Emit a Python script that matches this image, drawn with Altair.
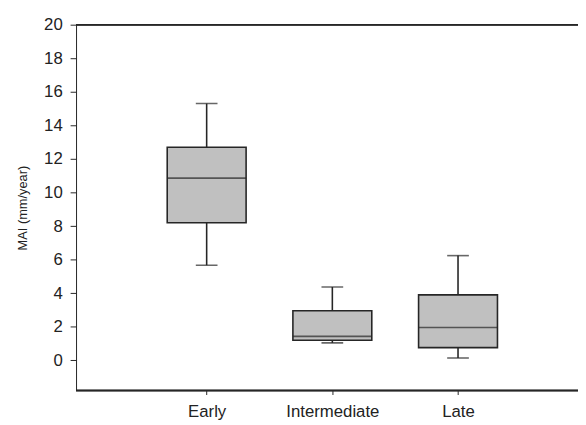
import altair as alt
import pandas as pd

categories = ["Early", "Intermediate", "Late"]
lower = [5.67, 1.04, 0.14]
q1 = [8.2, 1.2, 0.76]
median = [10.86, 1.43, 1.96]
q3 = [12.7, 2.96, 3.9]
upper = [15.3, 4.37, 6.24]
y_ticks = [0, 2, 4, 6, 8, 10, 12, 14, 16, 18, 20]

df = pd.DataFrame({"cat": categories, "pos": list(range(1, len(categories) + 1)),
                   "lo": lower, "q1": q1, "med": median, "q3": q3, "hi": upper})

W, H = 509, 371
FONT = "Liberation Sans"
LC = "#262626"

label_expr = "datum.value == 1 ? 'Early' : datum.value == 2 ? 'Intermediate' : datum.value == 3 ? 'Late' : ''"
x = alt.X("pos:Q",
          scale=alt.Scale(domain=[0, W / 130], nice=False, zero=False),
          axis=alt.Axis(title=None, values=[1, 2, 3], labelExpr=label_expr,
                        labelFont=FONT, labelFontSize=17, grid=False,
                        labelColor="#222222", domain=False, tickColor=LC,
                        tickSize=4, labelPadding=9, labelFlush=False))
yscale = alt.Scale(domain=[-1.8, 20], nice=False, zero=False)
y_axis = alt.Axis(title="MAI (mm/year)", values=y_ticks, grid=False,
                  labelOverlap=False, labelFlush=False,
                  labelFont=FONT, labelFontSize=17, labelColor="#222222",
                  titleFont=FONT, titleFontSize=13, titleFontWeight="normal",
                  titleColor="#222222", domainColor=LC, tickColor=LC,
                  tickSize=6, labelPadding=8, titlePadding=14)


def yenc(field):
    return alt.Y(field, scale=yscale, axis=y_axis, title="MAI (mm/year)")


base = alt.Chart(df)

whisk_lo = base.mark_rule(color=LC, strokeWidth=1.6).encode(
    x=x, y=yenc("lo:Q"), y2="q1:Q")
whisk_hi = base.mark_rule(color=LC, strokeWidth=1.6).encode(
    x=x, y=yenc("q3:Q"), y2="hi:Q")
box = base.mark_bar(size=80, fill="#c0c0c0", stroke=LC, strokeWidth=1.6,
                    orient="vertical").encode(
    x=x, y=yenc("q1:Q"), y2="q3:Q")
med = base.mark_tick(size=80, thickness=1.6, color=LC, orient="horizontal").encode(
    x=x, y=yenc("med:Q"))
cap_lo = base.mark_tick(size=22, thickness=1.6, color=LC, orient="horizontal").encode(
    x=x, y=yenc("lo:Q"))
cap_hi = base.mark_tick(size=22, thickness=1.6, color=LC, orient="horizontal").encode(
    x=x, y=yenc("hi:Q"))

top_line = alt.Chart(df).mark_rule(color=LC, strokeWidth=1.5).encode(
    x=alt.value(0), x2=alt.value(W), y=alt.value(0))
bottom_line = alt.Chart(df).mark_rule(color=LC, strokeWidth=1.5).encode(
    x=alt.value(0), x2=alt.value(W), y=alt.value(H))

chart = alt.layer(whisk_lo, whisk_hi, box, med, cap_lo, cap_hi, top_line, bottom_line).properties(
    width=W, height=H,
    autosize=alt.AutoSizeParams(type="none"),
    padding={"left": 69, "top": 14, "right": 0, "bottom": 32},
).configure_view(stroke=None).configure(background="white")

chart.save("out.html", embed_options={"renderer": "svg", "actions": False})
